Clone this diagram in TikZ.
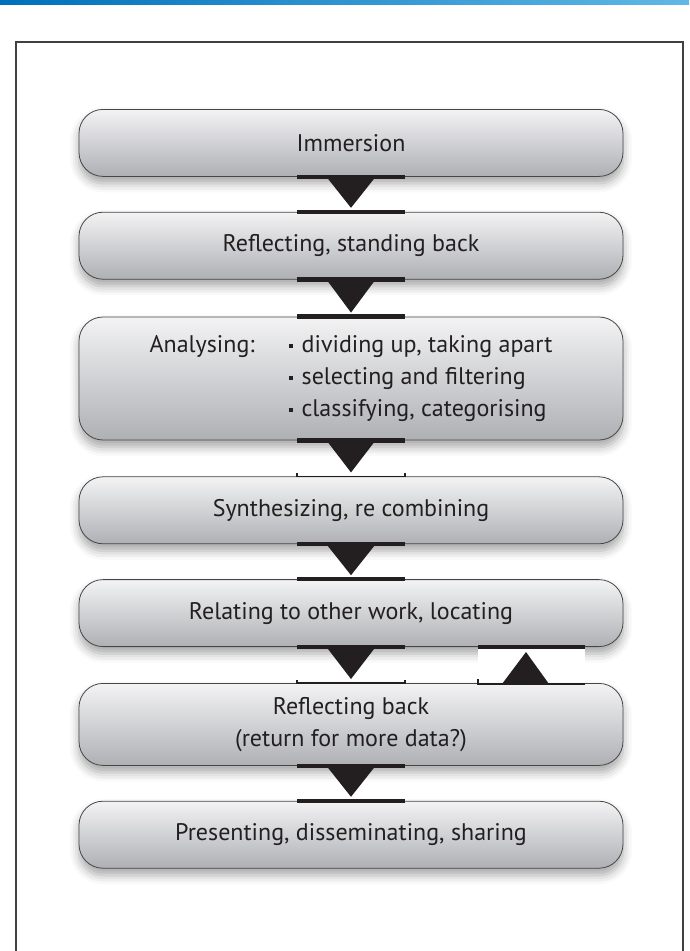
\documentclass[tikz,border=0pt]{standalone}
\usepackage{fontspec}
\setmainfont{PT Sans}
\usetikzlibrary{positioning,shadows.blur}
\definecolor{boxtop}{RGB}{243,243,244}
\definecolor{boxbot}{RGB}{174,176,180}
\definecolor{boxline}{RGB}{70,70,72}
\definecolor{ink}{RGB}{35,31,32}
\definecolor{bluel}{RGB}{0,112,186}
\definecolor{bluer}{RGB}{96,184,230}
\tikzset{
    stage/.style={draw=boxline,line width=0.8pt,rounded corners=24pt,top color=boxtop,bottom color=boxbot,
        minimum width=544pt,minimum height=67pt,align=center,text=ink,font=\fontsize{24}{32}\selectfont,
        blur shadow={shadow xshift=0pt,shadow yshift=-7pt,shadow blur radius=9pt,shadow opacity=35}},
    bar/.style={-,line width=4.5pt,draw=ink},
    thinbar/.style={-,line width=1.4pt,draw=ink},
    tri/.style={fill=ink},
    frame/.style={-,line width=1.3pt,draw=black!75},
}

\begin{document}
\begin{tikzpicture}[x=1pt,y=-1pt]
    \useasboundingbox (0,0) rectangle (689,951);
    \shade[left color=bluel,right color=bluer] (0,0) rectangle (689,4);
    \draw[frame] (16,960) -- (16,42) -- (683,42) -- (683,960);
    % stages
    \node[stage,anchor=north] at (351,109) (imm) {Immersion};
    \node[stage,below=35pt of imm] (refl) {Reflecting, standing back};
    \node[stage,below=37pt of refl,minimum height=123pt] (anal) {%
        \begin{tabular}{@{}l@{\hspace{34pt}}l@{}}
            Analysing: & \raisebox{5pt}{\rule{4pt}{4pt}}\hspace{9pt}dividing up, taking apart\\
                       & \raisebox{5pt}{\rule{4pt}{4pt}}\hspace{9pt}selecting and filtering\\
                       & \raisebox{5pt}{\rule{4pt}{4pt}}\hspace{9pt}classifying, categorising
        \end{tabular}};
    \node[stage,below=36pt of anal] (synth) {Synthesizing, re combining};
    \node[stage,below=35pt of synth] (rel) {Relating to other work, locating};
    \node[stage,below=36pt of rel,minimum height=82pt] (back) {Reflecting back\\(return for more data?)};
    \node[stage,below=35pt of back] (pres) {Presenting, disseminating, sharing};
    % down arrows
    \draw[bar] ([xshift=-54pt]imm.south) -- ([xshift=54pt]imm.south);
    \fill[tri] ([xshift=-23pt,yshift=-2pt]imm.south) -- ([xshift=23pt,yshift=-2pt]imm.south) -- ([yshift=4pt]refl.north) -- cycle;
    \draw[bar] ([xshift=-54pt]refl.north) -- ([xshift=54pt]refl.north);
    \draw[bar] ([xshift=-54pt]refl.south) -- ([xshift=54pt]refl.south);
    \fill[tri] ([xshift=-23pt,yshift=-2pt]refl.south) -- ([xshift=23pt,yshift=-2pt]refl.south) -- ([yshift=4pt]anal.north) -- cycle;
    \draw[bar] ([xshift=-54pt]anal.north) -- ([xshift=54pt]anal.north);
    \draw[bar] ([xshift=-54pt]anal.south) -- ([xshift=54pt]anal.south);
    \fill[tri] ([xshift=-23pt,yshift=-2pt]anal.south) -- ([xshift=23pt,yshift=-2pt]anal.south) -- ([yshift=4pt]synth.north) -- cycle;
    \draw[thinbar] ([xshift=-54pt,yshift=3pt]synth.north) -- ([xshift=-54pt]synth.north) -- ([xshift=54pt]synth.north) -- ([xshift=54pt,yshift=3pt]synth.north);
    \draw[bar] ([xshift=-54pt]synth.south) -- ([xshift=54pt]synth.south);
    \fill[tri] ([xshift=-23pt,yshift=-2pt]synth.south) -- ([xshift=23pt,yshift=-2pt]synth.south) -- ([yshift=4pt]rel.north) -- cycle;
    \draw[bar] ([xshift=-54pt]rel.north) -- ([xshift=54pt]rel.north);
    \draw[bar] ([xshift=-54pt]rel.south) -- ([xshift=54pt]rel.south);
    \fill[tri] ([xshift=-23pt,yshift=-2pt]rel.south) -- ([xshift=23pt,yshift=-2pt]rel.south) -- ([yshift=4pt]back.north) -- cycle;
    \draw[thinbar] ([xshift=-54pt,yshift=3pt]back.north) -- ([xshift=-54pt]back.north) -- ([xshift=54pt]back.north) -- ([xshift=54pt,yshift=3pt]back.north);
    \draw[bar] ([xshift=-54pt]back.south) -- ([xshift=54pt]back.south);
    \fill[tri] ([xshift=-23pt,yshift=-2pt]back.south) -- ([xshift=23pt,yshift=-2pt]back.south) -- ([yshift=4pt]pres.north) -- cycle;
    \draw[bar] ([xshift=-54pt]pres.north) -- ([xshift=54pt]pres.north);
    % up arrow
    \fill[white] ([xshift=127pt,yshift=-2pt]rel.south) rectangle ([xshift=234pt,yshift=1pt]back.north);
    \draw[bar] ([xshift=127pt]rel.south) -- ([xshift=234pt]rel.south);
    \fill[tri] ([xshift=151pt,yshift=-1pt]back.north) -- ([xshift=198pt,yshift=-1pt]back.north) -- ([xshift=175pt,yshift=-5pt]rel.south) -- cycle;
    \draw[thinbar] ([xshift=127pt,yshift=4pt]back.north) -- ([xshift=127pt,yshift=-1pt]back.north) -- ([xshift=234pt,yshift=-1pt]back.north);
\end{tikzpicture}
\end{document}
